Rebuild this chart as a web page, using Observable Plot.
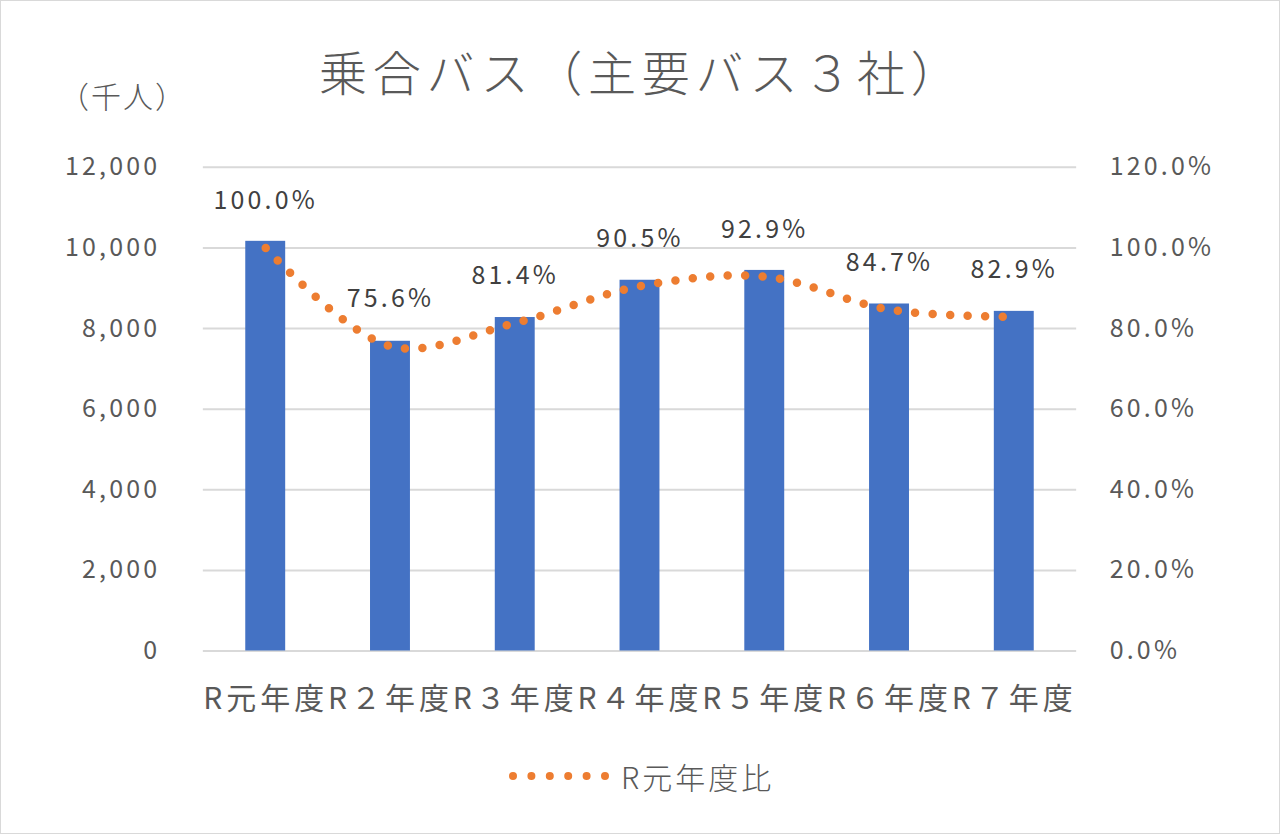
<!DOCTYPE html>
<html><head><meta charset="utf-8">
<script src="https://cdn.jsdelivr.net/npm/d3@7"></script>
<script src="https://cdn.jsdelivr.net/npm/@observablehq/plot@0.6"></script>
<style>
html,body{margin:0;padding:0;background:#fff;}
#wrap{position:relative;width:1278px;height:832px;border:1px solid #d9d9d9;overflow:hidden;font-family:"Noto Sans CJK JP","Noto Sans",sans-serif;}
#title{position:absolute;left:318px;top:34px;white-space:nowrap;font-size:48px;letter-spacing:5.8px;color:#595959;font-weight:300;}
#unit{position:absolute;left:58px;top:72px;font-size:30px;letter-spacing:2px;color:#595959;font-weight:300;}
#legend{position:absolute;left:508px;top:753px;font-size:30px;color:#595959;display:flex;align-items:center;gap:12px;letter-spacing:3px;font-weight:300;}
#chart{position:absolute;left:-1px;top:-1px;}
#chart svg text{letter-spacing:3.2px;}
#chart svg g.xax text{letter-spacing:4px;}
</style></head>
<body>
<div id="wrap">
<div id="chart"></div>
<div id="title">乗合バス（主要バス３社）</div>
<div id="unit">（千人）</div>
<div id="legend"><svg width="100" height="12"><line x1="4" y1="6" x2="96" y2="6" stroke="#ED7D31" stroke-width="8" stroke-linecap="round" stroke-dasharray="0 18.4"/></svg><span>R元年度比</span></div>
</div>
<script>
const categories = ["R元年度","R２年度","R３年度","R４年度","R５年度","R６年度","R７年度"];
const riders = [10165, 7685, 8274, 9199, 9443, 8610, 8427];
const ratio = [100.0, 75.6, 81.4, 90.5, 92.9, 84.7, 82.9];
const leftTicks = [0, 2000, 4000, 6000, 8000, 10000, 12000];

const data = categories.map((c, i) => ({cat: c, v: riders[i], r: ratio[i]}));

const chart = Plot.plot({
  width: 1280, height: 834,
  marginTop: 167, marginBottom: 183, marginLeft: 203, marginRight: 203,
  style: {fontFamily: '"Noto Sans CJK JP","Noto Sans",sans-serif', background: "transparent"},
  x: {domain: categories, paddingInner: 0.68, paddingOuter: 0.34, round: false},
  y: {domain: [0, 12000]},
  marks: [
    Plot.ruleY(leftTicks, {stroke: "#d9d9d9", strokeWidth: 2}),
    Plot.barY(data, {x: "cat", y: "v", fill: "#4472C4"}),
    Plot.line(data, {x: "cat", y: d => d.r * 100, stroke: "#ED7D31", strokeWidth: 8.5,
      strokeLinecap: "round", strokeDasharray: "0 17.5", curve: "catmull-rom"}),
    Plot.text(data, {x: "cat", y: d => d.r * 100, dy: -47, text: d => d.r.toFixed(1) + "%",
      fontSize: 25, fill: "#404040"}),
    Plot.axisY(leftTicks, {anchor: "left", tickSize: 0, tickPadding: 43, fontSize: 25, color: "#595959",
      tickFormat: d => d3.format(",")(d), label: null}),
    Plot.axisY(leftTicks, {anchor: "right", tickSize: 0, tickPadding: 33, fontSize: 25, color: "#595959",
      tickFormat: d => (d / 100).toFixed(1) + "%", label: null}),
    Plot.axisX({tickSize: 0, tickPadding: 37, fontSize: 30, color: "#595959", label: null, className: "xax"})
  ]
});
document.getElementById("chart").appendChild(chart);
</script>
</body></html>
